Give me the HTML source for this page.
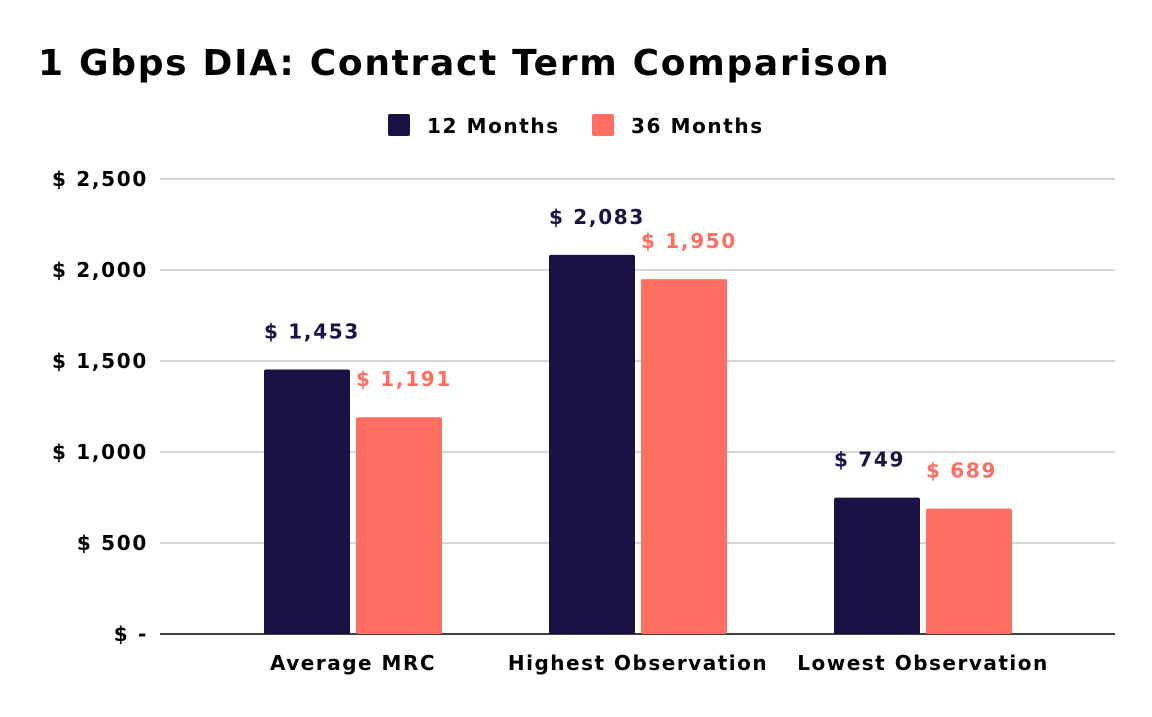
<!DOCTYPE html>
<html><head><meta charset="utf-8"><style>
body{margin:0;background:#fff;}
svg text{font-family:"DejaVu Sans","Liberation Sans",sans-serif;font-weight:bold;}
</style></head><body>
<svg id="chart" width="1152" height="712" xmlns="http://www.w3.org/2000/svg">
<rect width="1152" height="712" fill="#fff"/>
<text x="38" y="75" font-size="36" letter-spacing="1.7" fill="#000">1 Gbps DIA: Contract Term Comparison</text>
<g>
<rect x="388" y="114" width="22" height="22" rx="2" fill="#1a1245"/>
<text x="427" y="133" font-size="20" letter-spacing="1.6" fill="#000">12 Months</text>
<rect x="592" y="114" width="22" height="22" rx="2" fill="#ff6f61"/>
<text x="631" y="133" font-size="20" letter-spacing="1.6" fill="#000">36 Months</text>
</g>
<g id="grid"></g><g id="bars"></g>
</svg>
<script>
const categories=["Average MRC","Highest Observation","Lowest Observation"];
const series12=[1453,2083,749];
const series36=[1191,1950,689];
const tickValues=[0,500,1000,1500,2000,2500];
const tickLabels=["$ -","$ 500","$ 1,000","$ 1,500","$ 2,000","$ 2,500"];
const NS="http://www.w3.org/2000/svg";
const y0=634,yTop=179,maxV=2500,plotL=160,plotR=1115;
const y=v=>y0-(v/maxV)*(y0-yTop);
const catW=285,catStart=210;
const xc=i=>catStart+catW*i+143;
function mk(t,a,p){const e=document.createElementNS(NS,t);for(const k in a)e.setAttribute(k,a[k]);p.appendChild(e);return e;}
const grid=document.getElementById('grid'),bars=document.getElementById('bars');
tickValues.forEach((v,i)=>{
 const l=mk('line',{x1:plotL,x2:plotR,y1:y(v),y2:y(v),stroke:i==0?'#000':'#c8c8c8','stroke-width':1.5},grid);
 
 
 const t=mk('text',{x:148,y:y(v)+7,'font-size':20,'letter-spacing':1.7,'text-anchor':'end',fill:'#000'},grid);
 t.textContent=tickLabels[i];
 
 
});
const bw=86,gap=6;
categories.forEach((c,i)=>{
 const cx=xc(i);
 [[series12,'#1a1245',cx-gap/2-bw,'12'],[series36,'#ff6f61',cx+gap/2,'36']].forEach(([s,col,x,n])=>{
  const r=mk('rect',{x:x,y:y(s[i]),width:bw,height:y0-y(s[i]),fill:col,rx:2},bars);
  
  
  const t=mk('text',{x:x,y:y(s[i])-31,'font-size':20,'letter-spacing':1.7,fill:col},bars);
  t.textContent='$ '+s[i].toLocaleString('en-US');
  
  
 });
 const t=mk('text',{x:cx,y:670,'font-size':20,'letter-spacing':1.5,'text-anchor':'middle',fill:'#000'},bars);
 t.textContent=c;
 
 
});
</script>
</body></html>
